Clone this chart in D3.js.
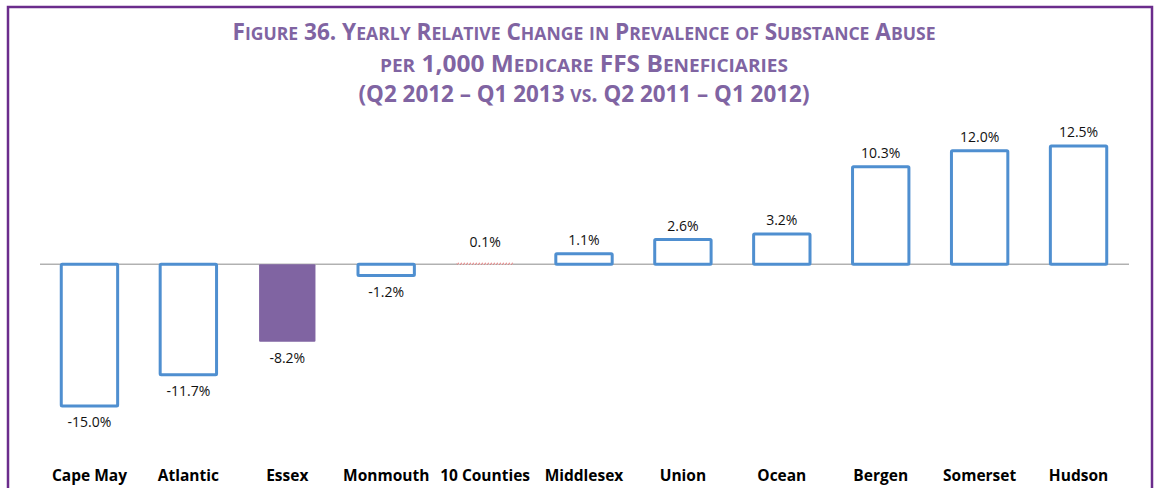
<!DOCTYPE html>
<html>
<head>
<meta charset="utf-8">
<script src="https://d3js.org/d3.v7.min.js"></script>
<style>
  html, body { margin: 0; padding: 0; background: #fff; }
  svg { display: block; }
  .title { font-family: "Open Sans", sans-serif; font-weight: 700; fill: #8064a2; }
  .val { font-family: "Open Sans", sans-serif; font-size: 14px; fill: #111; }
  .cat { font-family: "Open Sans", sans-serif; font-size: 15.5px; font-weight: 700; fill: #000; }
</style>
</head>
<body>
<script>
"use strict";
// Figure 36: yearly relative change in substance abuse prevalence, by county
const counties = ["Cape May", "Atlantic", "Essex", "Monmouth", "10 Counties", "Middlesex",
                  "Union", "Ocean", "Bergen", "Somerset", "Hudson"];
const changes = [-15.0, -11.7, -8.2, -1.2, 0.1, 1.1, 2.6, 3.2, 10.3, 12.0, 12.5];
const valueLabels = ["-15.0%", "-11.7%", "-8.2%", "-1.2%", "0.1%", "1.1%", "2.6%", "3.2%", "10.3%", "12.0%", "12.5%"];
const titleLines = [
  "Figure 36. Yearly Relative Change in Prevalence of Substance Abuse",
  "per 1,000 Medicare FFS Beneficiaries",
  "(Q2 2012 – Q1 2013 vs. Q2 2011 – Q1 2012)"
];
const titleWidths = [703, 408, 451];
const highlight = "Essex";
const total = "10 Counties";

const W = 1155, H = 488;
const svg = d3.select("body").append("svg").attr("width", W).attr("height", H);

// purple frame (bottom edge runs off the page)
svg.append("rect").attr("x", 8).attr("y", 7).attr("width", 1144).attr("height", 500)
  .attr("fill", "none").attr("stroke", "#6b2c8c").attr("stroke-width", 2.5);

// hand-made small caps: split each line into runs of upper / lower case
function runs(s) {
  const out = [];
  for (const ch of s) {
    const low = ch !== ch.toUpperCase();
    const last = out[out.length - 1];
    if (last && last.low === low) last.t += ch;
    else out.push({ low, t: ch });
  }
  return out;
}

const title = svg.append("g").selectAll("text").data(titleLines).join("text")
  .attr("class", "title")
  .attr("x", 584).attr("y", (d, i) => [40, 72, 102][i])
  .attr("text-anchor", "middle")
  .attr("textLength", (d, i) => titleWidths[i])
  .attr("lengthAdjust", "spacingAndGlyphs");
title.selectAll("tspan").data((d) => runs(d)).join("tspan")
  .attr("font-size", (r) => r.low ? 17.5 : 22.5)
  .text((r) => r.t.toUpperCase());

const x = d3.scaleBand().domain(counties).range([40, 1128]).paddingInner(0.43).paddingOuter(0.215);
const y = d3.scaleLinear().domain([-15, 12.5]).range([406, 146]);

const data = counties.map((c, i) => ({ c, v: changes[i], label: valueLabels[i] }));

svg.append("line").attr("x1", 40).attr("x2", 1129).attr("y1", y(0)).attr("y2", y(0))
  .attr("stroke", "#8c8c8c").attr("stroke-width", 1);

svg.append("g").selectAll("rect").data(data).join("rect")
  .attr("x", (d) => x(d.c))
  .attr("width", x.bandwidth())
  .attr("y", (d) => y(Math.max(0, d.v)))
  .attr("height", (d) => Math.abs(y(d.v) - y(0)))
  .attr("rx", 1)
  .attr("fill", (d) => d.c === highlight ? "#8064a2" : "#fff")
  .attr("stroke", (d) => d.c === highlight ? "none" : d.c === total ? "#e06060" : "#4f8fd0")
  .attr("stroke-width", (d) => d.c === total ? 1 : 3)
  .attr("stroke-dasharray", (d) => d.c === total ? "1,2" : null);

svg.append("g").selectAll("text").data(data).join("text")
  .attr("class", "val")
  .attr("x", (d) => x(d.c) + x.bandwidth() / 2)
  .attr("y", (d) => d.v >= 0 ? y(d.v) - 9 - (d.c === total ? 7 : 0) : y(d.v) + 21)
  .attr("text-anchor", "middle")
  .text((d) => d.label);

svg.append("g").selectAll("text").data(counties).join("text")
  .attr("class", "cat")
  .attr("x", (d) => x(d) + x.bandwidth() / 2)
  .attr("y", 481)
  .attr("text-anchor", "middle")
  .text((d) => d);
</script>
</body>
</html>
